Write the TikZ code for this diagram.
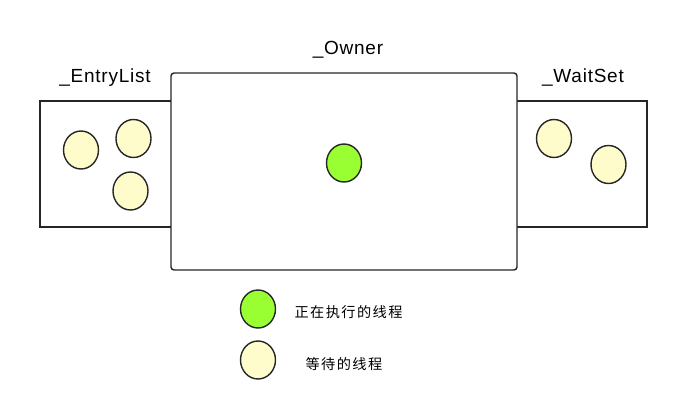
\documentclass[tikz,border=0pt]{standalone}
\usepackage{fontspec}
\usetikzlibrary{shapes.geometric}
\setmainfont{Liberation Sans}
\newfontfamily\cjk{Noto Sans CJK SC}
\begin{document}
\begin{tikzpicture}[x=1pt,y=-1pt,
  boxline/.style={draw=black!85,line width=1.4pt},
  thread/.style={ellipse,draw=black!85,line width=1.4pt,minimum width=35pt,minimum height=38pt,inner sep=0pt},
  waiting/.style={thread,fill=yellow!20!white},
  running/.style={thread,fill={rgb,255:red,153;green,255;blue,51}},
  title/.style={anchor=base,font=\fontsize{19}{21}\selectfont\addfontfeature{LetterSpace=4}},
  legend/.style={anchor=west,font=\cjk\fontsize{14.2}{16}\selectfont\addfontfeature{LetterSpace=10}}]
\useasboundingbox (0,0) rectangle (689,408);
\draw[boxline] (40,101) rectangle (200,227);
\draw[boxline] (480,101) rectangle (647,227);
\draw[boxline,fill=white,rounded corners=3pt] (171,73) rectangle (517,270);
\node[title] (tentry) at (105,82) {\_EntryList};
\node[title] (towner) at (348,54) {\_Owner};
\node[title] (twait) at (583,82) {\_WaitSet};
\node[waiting] (e1) at (81,150) {};
\node[waiting] (e2) at (133.5,138.5) {};
\node[waiting] (e3) at (130.5,191) {};
\node[running] (o1) at (344,163) {};
\node[waiting] (w1) at (554,138.5) {};
\node[waiting] (w2) at (608.5,164.5) {};
\node[running] (l1) at (258,309) {};
\node[waiting] (l2) at (258,360) {};
\node[legend] (lt1) at (291,312) {正在执行的线程};
\node[legend] (lt2) at (302,364) {等待的线程};
\end{tikzpicture}
\end{document}
